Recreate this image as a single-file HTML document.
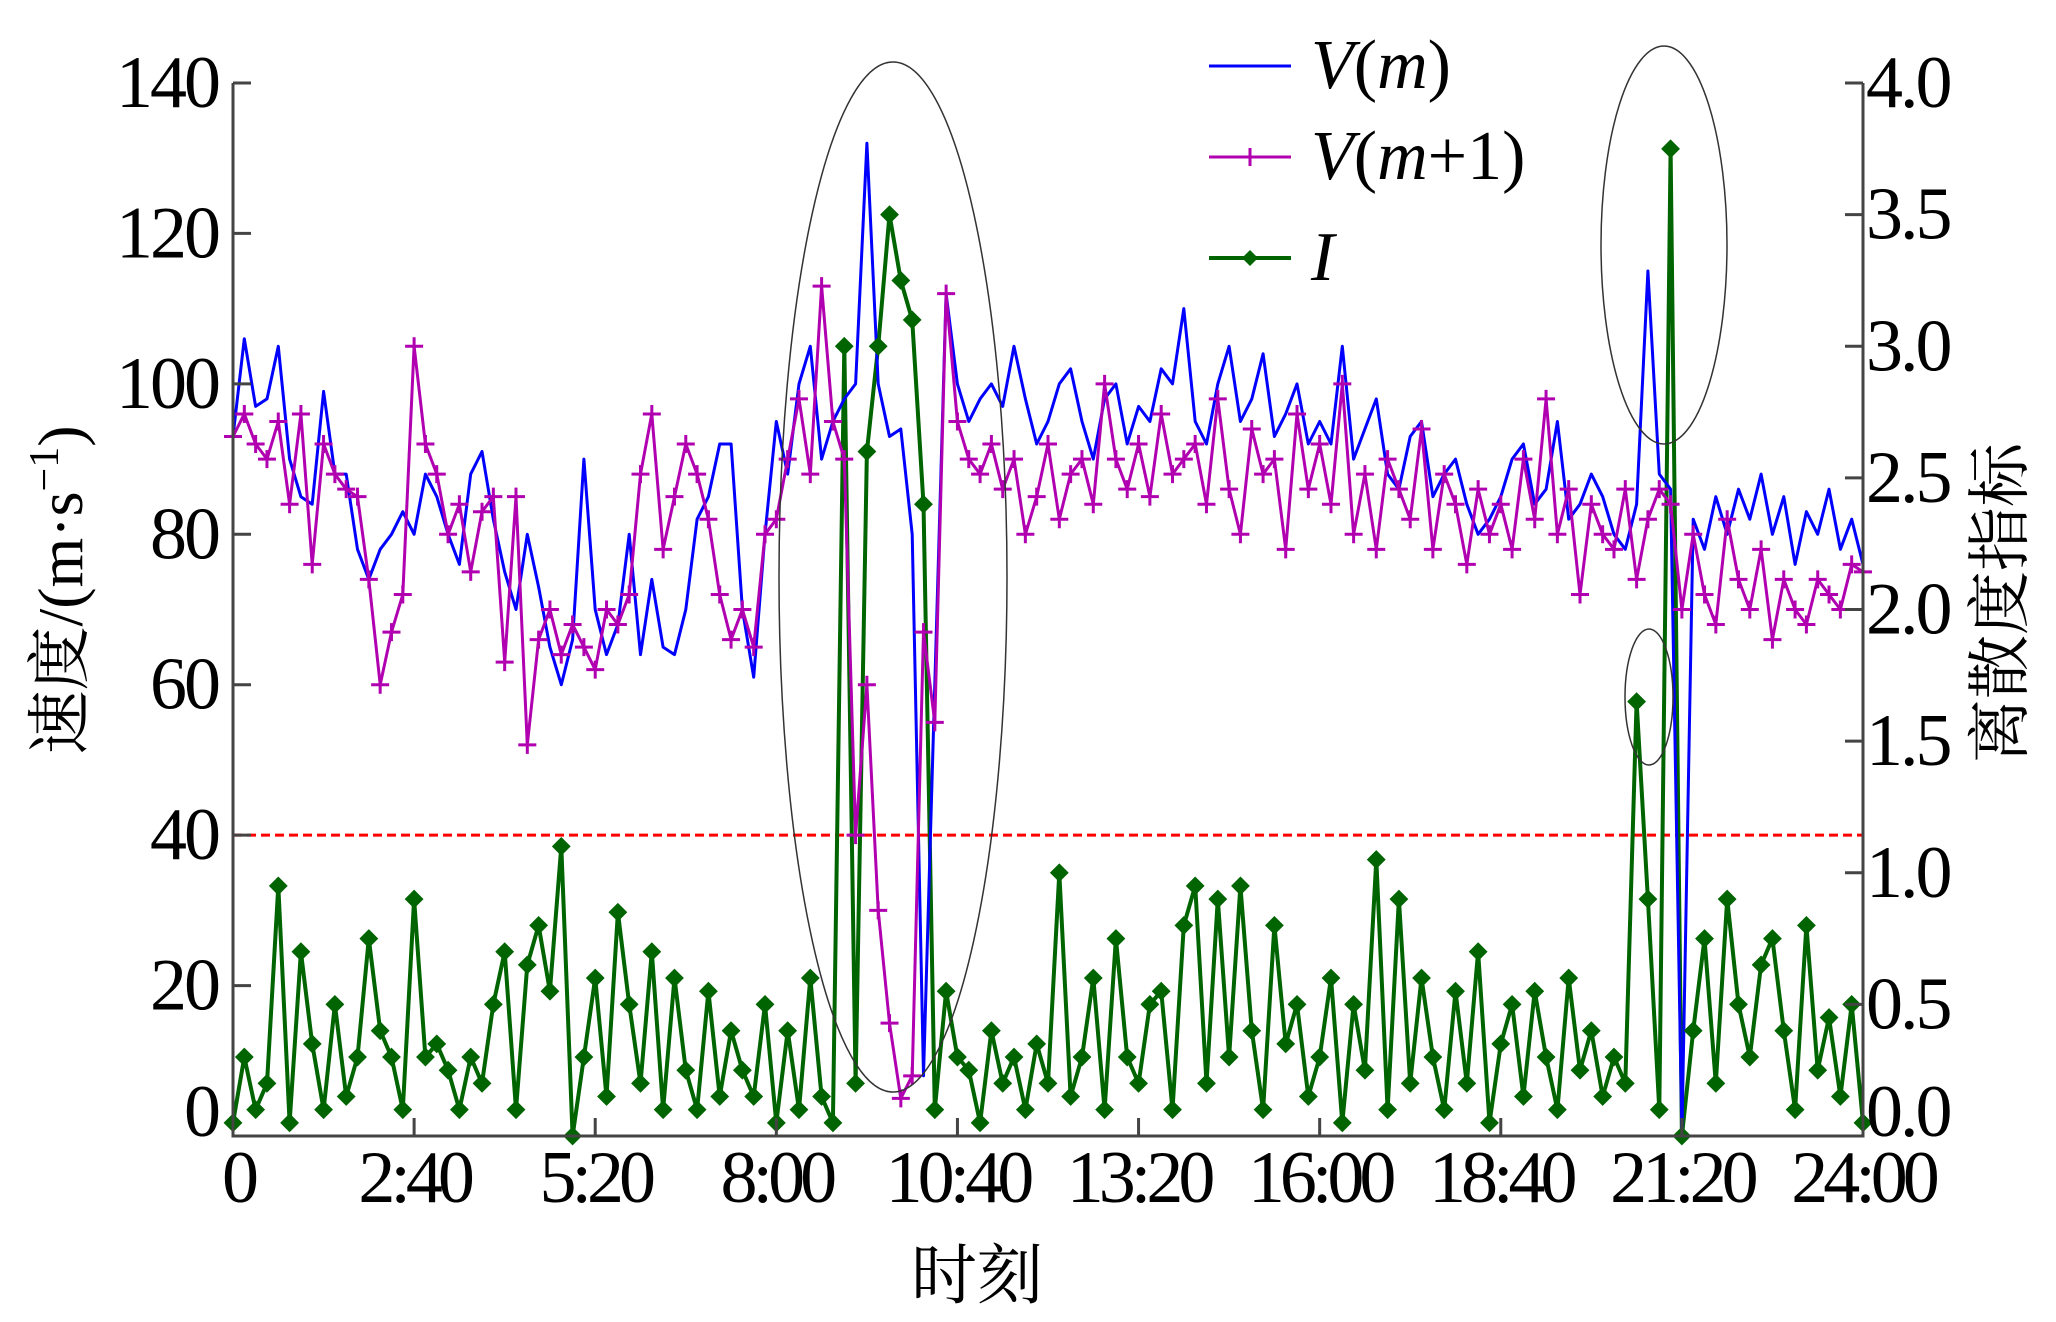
<!DOCTYPE html>
<html><head><meta charset="utf-8"><style>
html,body{margin:0;padding:0;background:#fff;}
svg{display:block;}
text{font-family:"Liberation Serif","Noto Serif CJK SC",serif;fill:#000;}
</style></head><body>
<svg id="chart" width="2056" height="1322" viewBox="0 0 2056 1322" xmlns="http://www.w3.org/2000/svg">
<g id="marks"></g>
<g id="axes"></g>
</svg>
<script>
const xTickLabels = ["0","2:40","5:20","8:00","10:40","13:20","16:00","18:40","21:20","24:00"];
const leftTickValues = [0,20,40,60,80,100,120,140];
const rightTickLabels = ["0.0","0.5","1.0","1.5","2.0","2.5","3.0","3.5","4.0"];
const thresholdValue = 40;
const speedVm = [93,106,97,98,105,90,85,84,99,88,88,78,74,78,80,83,
80,88,85,80,76,88,91,82,75,70,80,73,65,60,66,90,
70,64,68,80,64,74,65,64,70,82,85,92,92,70,61,80,
95,88,100,105,90,95,98,100,132,100,93,94,80,8,60,112,
100,95,98,100,97,105,98,92,95,100,102,95,90,98,100,92,
97,95,102,100,110,95,92,100,105,95,98,104,93,96,100,92,
95,92,105,90,94,98,88,86,93,95,85,88,90,84,80,82,
85,90,92,84,86,95,82,84,88,85,80,78,84,115,88,86,
0,82,78,85,80,86,82,88,80,85,76,83,80,86,78,82,76];
const speedVm1 = [93,96,92,90,95,84,96,76,92,88,86,85,74,60,67,72,
105,92,88,80,84,75,83,85,63,85,52,66,70,64,68,65,
62,70,68,72,88,96,78,85,92,88,82,72,66,70,65,80,
82,90,98,88,113,95,90,40,60,30,15,5,8,67,55,112,
95,90,88,92,86,90,80,85,92,82,88,90,84,100,90,86,
92,85,96,88,90,92,84,98,86,80,94,88,90,78,96,86,
92,84,100,80,88,78,90,86,82,94,78,88,84,76,86,80,
84,78,90,82,98,80,86,72,84,80,78,86,74,82,86,84,
70,80,72,68,82,74,70,78,66,74,70,68,74,72,70,76,75];
const indexI = [0.05,0.3,0.1,0.2,0.95,0.05,0.7,0.35,0.1,0.5,0.15,0.3,0.75,0.4,0.3,0.1,
0.9,0.3,0.35,0.25,0.1,0.3,0.2,0.5,0.7,0.1,0.65,0.8,0.55,1.1,0.0,0.3,
0.6,0.15,0.85,0.5,0.2,0.7,0.1,0.6,0.25,0.1,0.55,0.15,0.4,0.25,0.15,0.5,
0.05,0.4,0.1,0.6,0.15,0.05,3.0,0.2,2.6,3.0,3.5,3.25,3.1,2.4,0.1,0.55,
0.3,0.25,0.05,0.4,0.2,0.3,0.1,0.35,0.2,1.0,0.15,0.3,0.6,0.1,0.75,0.3,
0.2,0.5,0.55,0.1,0.8,0.95,0.2,0.9,0.3,0.95,0.4,0.1,0.8,0.35,0.5,0.15,
0.3,0.6,0.05,0.5,0.25,1.05,0.1,0.9,0.2,0.6,0.3,0.1,0.55,0.2,0.7,0.05,
0.35,0.5,0.15,0.55,0.3,0.1,0.6,0.25,0.4,0.15,0.3,0.2,1.65,0.9,0.1,3.75,
0.0,0.4,0.75,0.2,0.9,0.5,0.3,0.65,0.75,0.4,0.1,0.8,0.25,0.45,0.15,0.5,0.05];

const L=233,R=1863,T=83,B=1136;
const NS="http://www.w3.org/2000/svg";
const xAt=i=>L+(R-L)*i/(speedVm.length-1);
const yL=v=>B-(B-T)*v/140;
const yR=v=>B-(B-T)*v/4;
const marks=document.getElementById('marks'), axes=document.getElementById('axes');
function mk(tag,attrs,parent){const e=document.createElementNS(NS,tag);for(const k in attrs)e.setAttribute(k,attrs[k]);parent.appendChild(e);return e;}

const th=mk('line',{x1:L,x2:R,y1:yL(thresholdValue),y2:yL(thresholdValue),stroke:'#ff0000','stroke-width':3,'stroke-dasharray':'9,5'},marks);



function series(vals,yf,color,w,name){
  const p=vals.map((v,i)=>xAt(i).toFixed(1)+','+yf(v).toFixed(1)).join(' ');
  const pl=mk('polyline',{points:p,fill:'none',stroke:color,'stroke-width':w,'stroke-linejoin':'round'},marks);
  
  
  return pl;
}
series(indexI,yR,'#006400',4,'series-i-line');
series(speedVm,yL,'#0000ff',3,'series-vm-line');
series(speedVm1,yL,'#b000b0',3,'series-vm1-line');
const pm=mk('path',{d:speedVm1.map((v,i)=>{const x=xAt(i),y=yL(v);return `M${x-9},${y}h18M${x},${y-9}v18`;}).join(''),stroke:'#b000b0','stroke-width':3,fill:'none'},marks);


const gm=mk('path',{d:indexI.map((v,i)=>{const x=xAt(i),y=yR(v);return `M${x-8},${y}L${x},${y-8}L${x+8},${y}L${x},${y+8}Z`;}).join(''),fill:'#006400',stroke:'#006400','stroke-width':2},marks);



[[893,577,114,515,'highlight-ellipse-morning'],[1664,245,63,199,'highlight-ellipse-evening'],[1649,697,24,68,'highlight-ellipse-small']].forEach(e=>{
  const el=mk('ellipse',{cx:e[0],cy:e[1],rx:e[2],ry:e[3],fill:'none',stroke:'#333','stroke-width':1.5},marks);
  
  
});

const ax=mk('path',{d:`M${L},${T}V${B}H${R}V${T}`,fill:'none',stroke:'#444','stroke-width':3},axes);


leftTickValues.forEach(v=>{
  mk('line',{x1:L,x2:L+18,y1:yL(v),y2:yL(v),stroke:'#444','stroke-width':3},axes);
  const t=mk('text',{x:218,y:yL(v)+(v===0?0:24),'text-anchor':'end','font-size':74,'letter-spacing':-3},axes);
  t.textContent=v;
  
  
});
rightTickLabels.forEach((s,k)=>{
  const y=yR(k*0.5);
  mk('line',{x1:R-18,x2:R,y1:y,y2:y,stroke:'#444','stroke-width':3},axes);
  const t=mk('text',{x:1866,y:y+(k===0?0:24),'font-size':74,'letter-spacing':-3},axes);
  t.textContent=s;
  
  
});
xTickLabels.forEach((s,k)=>{
  const x=L+(R-L)*k/(xTickLabels.length-1);
  mk('line',{x1:x,x2:x,y1:B,y2:B-18,stroke:'#444','stroke-width':3},axes);
  const t=mk('text',{x:x+(k===0?5:0),y:1202,'text-anchor':'middle','font-size':74,'letter-spacing':-5},axes);
  t.textContent=s;
  
  
});
</script>
<svg style="position:absolute;left:0;top:0" width="2056" height="1322">
<text x="977" y="1298" text-anchor="middle" font-size="66" style="font-family:'Liberation Serif','Noto Serif CJK SC',serif">时刻</text>
<text transform="translate(82,590) rotate(-90)" text-anchor="middle" font-size="64" style="font-family:'Liberation Serif','Noto Serif CJK SC',serif">速度/(m·s<tspan dy="-24" font-size="42">−1</tspan><tspan dy="24">)</tspan></text>
<text transform="translate(2022,603) rotate(-90)" text-anchor="middle" font-size="64" style="font-family:'Liberation Serif','Noto Serif CJK SC',serif">离散度指标</text>
<g style="font-family:'Liberation Serif',serif" font-size="70">
<g><line x1="1209" x2="1291" y1="66" y2="66" stroke="#0000ff" stroke-width="3"/><text x="1311" y="88"><tspan font-style="italic">V</tspan>(<tspan font-style="italic">m</tspan>)</text></g>
<g><line x1="1209" x2="1291" y1="157" y2="157" stroke="#b000b0" stroke-width="3"/><path d="M1241,157h18M1250,148v18" stroke="#b000b0" stroke-width="3"/><text x="1311" y="179"><tspan font-style="italic">V</tspan>(<tspan font-style="italic">m</tspan>+1)</text></g>
<g><line x1="1209" x2="1291" y1="258" y2="258" stroke="#006400" stroke-width="4"/><path d="M1242,258L1250,250L1258,258L1250,266Z" fill="#006400"/><text x="1311" y="280" font-style="italic">I</text></g>
</g>
</svg>
</body></html>
